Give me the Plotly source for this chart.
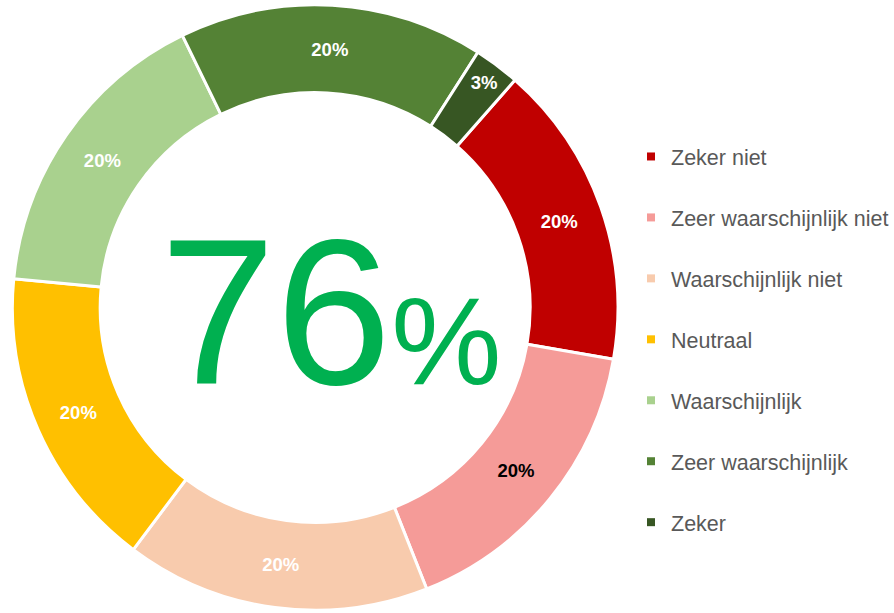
import plotly.graph_objects as go

categories = ["Zeker niet", "Zeer waarschijnlijk niet", "Waarschijnlijk niet",
              "Neutraal", "Waarschijnlijk", "Zeer waarschijnlijk", "Zeker"]
values = [20, 20, 20, 20, 20, 20, 3]
labels_text = ["20%", "20%", "20%", "20%", "20%", "20%", "3%"]
colors = ["#C00000", "#F59B98", "#F8CBAD", "#FFC000", "#A9D18E", "#548235", "#375623"]
text_colors = ["white", "black", "white", "white", "white", "white", "white"]
center_value = "76"

FONT = "Arial, Liberation Sans, sans-serif"
W, H = 894, 613

fig = go.Figure()
fig.add_trace(go.Pie(
    labels=categories, values=values, text=labels_text,
    textinfo="text", textposition="inside", insidetextorientation="horizontal",
    textfont=dict(family=FONT, size=18.5, color=text_colors, weight="bold"),
    marker=dict(colors=colors, line=dict(color="white", width=3)),
    hole=0.71, sort=False, direction="clockwise", rotation=41.3,
    domain=dict(x=[12.5 / W, 623.5 / W], y=[0, 1 - 2 / H]),
    showlegend=False, hoverinfo="label+text",
))

for i, (cat, col) in enumerate(zip(categories, colors)):
    fig.add_trace(go.Scatter(
        x=[None], y=[None], mode="markers", name=cat,
        marker=dict(symbol="square", size=8, color=col),
        legendgroup=f"g{i}", showlegend=True,
    ))

fig.add_annotation(
    x=334 / W, y=(H - 312) / H, xref="paper", yref="paper",
    xanchor="center", yanchor="middle", showarrow=False,
    text=center_value + '<span style="font-size:124px">%</span>',
    font=dict(family=FONT, size=208, color="#00B050"),
)

fig.update_layout(
    width=W, height=H, autosize=False,
    margin=dict(l=0, r=0, t=0, b=0),
    paper_bgcolor="white", plot_bgcolor="white",
    xaxis=dict(visible=False), yaxis=dict(visible=False),
    legend=dict(x=637 / W, y=(H - 136) / H, xanchor="left", yanchor="top",
                font=dict(family=FONT, size=21.5, color="#595959"),
                tracegroupgap=30, bgcolor="rgba(0,0,0,0)"),
)

fig.write_html("out.html", config={"displayModeBar": False},
               post_script="document.body.style.margin='0';")
